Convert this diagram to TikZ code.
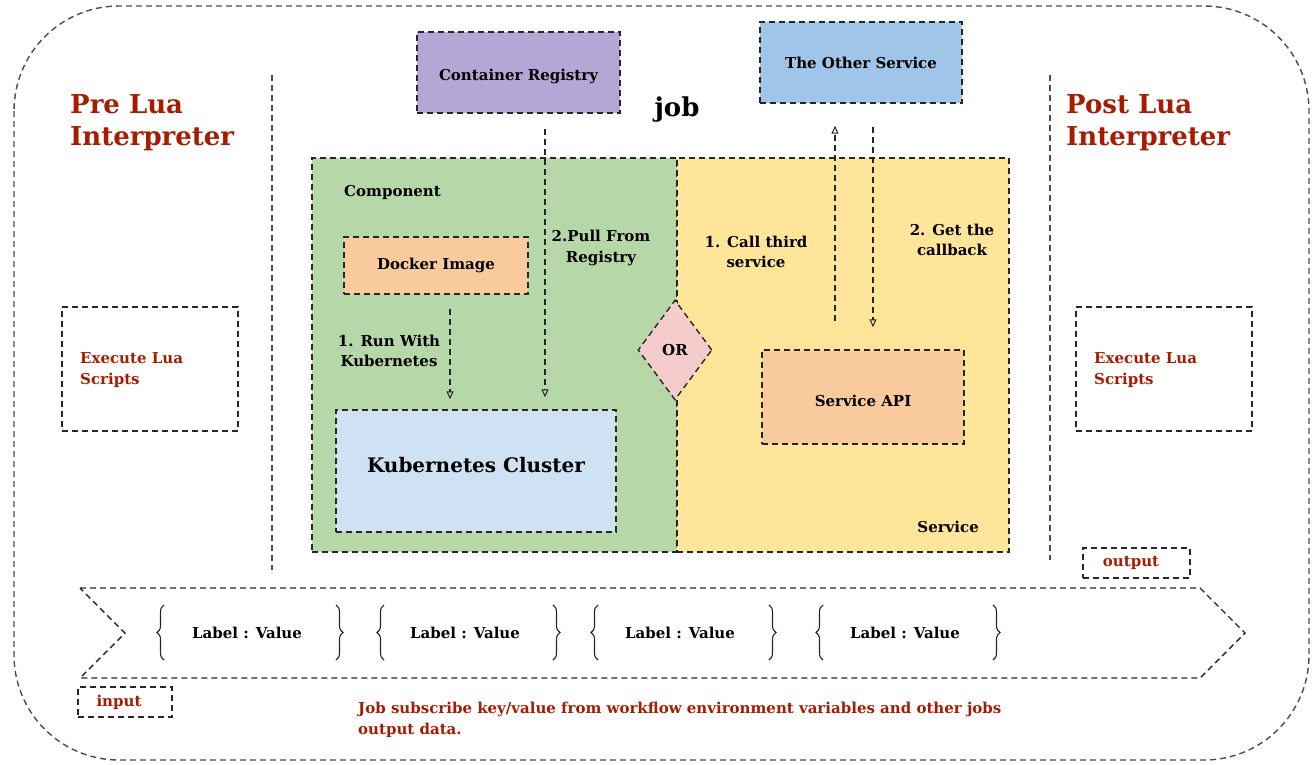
\documentclass[tikz,border=0pt]{standalone}
\usepackage{fontspec}
\setmainfont{DejaVu Serif}
\usetikzlibrary{arrows.meta,shapes.geometric,decorations.pathreplacing,calc}
\definecolor{luared}{HTML}{A61C00}
\definecolor{cpurple}{HTML}{B4A7D6}
\definecolor{cblue}{HTML}{9FC5E8}
\definecolor{cgreen}{HTML}{B6D7A8}
\definecolor{cyellow}{HTML}{FFE599}
\definecolor{corange}{HTML}{F9CB9C}
\definecolor{clblue}{HTML}{CFE2F3}
\definecolor{cpink}{HTML}{F4CCCC}
\begin{document}
\begin{tikzpicture}[x=1pt,y=-1pt,
  dsh/.style={dash pattern=on 6pt off 4pt, line width=1.4pt, draw=black!85},
  box/.style={dsh, rectangle, inner sep=0pt, align=center, font=\bfseries\fontsize{15}{18}\selectfont},
  txt/.style={inner sep=0pt, align=center, font=\bfseries\fontsize{15}{20.5}\selectfont},
  redt/.style={txt, text=luared},
  title/.style={redt, align=left, font=\bfseries\fontsize{26}{32}\selectfont},
  arr/.style={dsh, -{Triangle[open,length=8pt,width=7pt,line width=1pt]}},
  brc/.style={decorate, decoration={brace, amplitude=7pt}, line width=1.1pt, draw=black!85},
  lv/.style={txt}
]
\useasboundingbox (0,0) rectangle (1313,764);
% outer frame
\draw[dsh, draw=black!70, rounded corners=105pt] (14,6) rectangle (1309,760);
% divider lines
\coordinate (dl1) at (272,75); \coordinate (dl2) at (272,570);
\coordinate (dr1) at (1050,75); \coordinate (dr2) at (1050,560);
\draw[dsh, draw=black!70] (dl1) -- (dl2);
\draw[dsh, draw=black!70] (dr1) -- (dr2);
% titles
\node[title, anchor=west] (pre) at (70,123) {Pre Lua\\Interpreter};
\node[title, anchor=west] (post) at (1066,123) {Post Lua\\Interpreter};
% execute boxes
\node[dsh, rectangle, minimum width=176pt, minimum height=124pt] (lbox) at (150,369) {};
\node[dsh, rectangle, minimum width=176pt, minimum height=124pt] (rbox) at (1164,369) {};
\node[redt, align=left, anchor=west] (lexec) at (80,370) {Execute Lua\\Scripts};
\node[redt, align=left, anchor=west] (rexec) at (1094,370) {Execute Lua\\Scripts};
% top boxes
\node[box, fill=cpurple, minimum width=203pt, minimum height=81pt] (cr) at (518.5,72.5) {};
\node[txt] (crtxt) at (518.5,76) {Container Registry};
\node[box, fill=cblue, minimum width=202pt, minimum height=81pt] (os) at (861,62.5) {The Other Service};
\node[txt, font=\bfseries\fontsize{26}{30}\selectfont] (job) at (677,110) {job};
% regions
\node[dsh, rectangle, fill=cgreen, minimum width=365pt, minimum height=394pt] (comp) at (494.5,355) {};
\node[dsh, rectangle, fill=cyellow, minimum width=332pt, minimum height=394pt] (svc) at (843,355) {};
\node[txt, anchor=west] (comptxt) at (344,192) {Component};
\node[txt, anchor=east] (svctxt) at (979,527) {Service};
% inner boxes
\node[box, fill=corange, minimum width=184pt, minimum height=57pt] (docker) at (436,265.5) {Docker Image};
\node[box, fill=clblue, minimum width=280pt, minimum height=122pt] (k8s) at (476,471) {};
\node[txt, font=\bfseries\fontsize{20}{24}\selectfont] (k8stxt) at (476,465) {Kubernetes Cluster};
\node[box, fill=corange, minimum width=202pt, minimum height=94pt] (api) at (863,397) {};
\node[txt] (apitxt) at (863,401) {Service API};
\node[dsh, diamond, fill=cpink, minimum width=74pt, minimum height=100pt, inner sep=0pt, font=\bfseries\fontsize{15}{18}\selectfont] (or) at (675,350) {OR};
% step labels
\node[txt] (pull) at (601,248) {2.Pull From\\Registry};
\node[txt] (run) at (389,351) {1. Run With\\Kubernetes};
\node[txt] (call) at (756,252) {1. Call third\\service};
\node[txt] (get) at (952,240) {2. Get the\\callback};
% arrows
\coordinate (xa) at (545,0);
\coordinate (xb) at (450,0);
\coordinate (xc) at (835,0);
\coordinate (xd) at (873,0);
\draw[arr, shorten <=15pt, shorten >=12pt] (cr.south -| xa) -- (k8s.north -| xa);
\draw[arr, shorten <=14pt, shorten >=10pt] (docker.south -| xb) -- (k8s.north -| xb);
\draw[arr, shorten <=28pt, shorten >=22pt] (api.north -| xc) -- (os.south -| xc);
\draw[arr, shorten <=23pt, shorten >=22pt] (os.south -| xd) -- (api.north -| xd);
% band
\draw[dsh] (80,588) -- (1200,588) -- (1245,633) -- (1200,678) -- (80,678) -- (125,633) -- cycle;
\foreach \a/\b/\c/\n in {157/343/247/1, 377/560/465/2, 591/776/680/3, 816/1000/905/4}{
  \draw[brc] (\a+7,660) -- (\a+7,605);
  \draw[brc] (\b-7,605) -- (\b-7,660);
  \node[lv] (lv\n) at (\c,633) {Label : Value};
}
% io
\node[dsh, rectangle, minimum width=107pt, minimum height=30pt] (outbox) at (1136.5,563) {};
\node[redt] (outtxt) at (1131,563) {output};
\node[dsh, rectangle, minimum width=94pt, minimum height=30pt] (inbox) at (125,702) {};
\node[redt] (intxt) at (119,702) {input};
\node[redt, align=left, anchor=west] (note) at (358,720) {Job subscribe key/value from workflow environment variables and other jobs\\output data.};
\end{tikzpicture}
\end{document}
